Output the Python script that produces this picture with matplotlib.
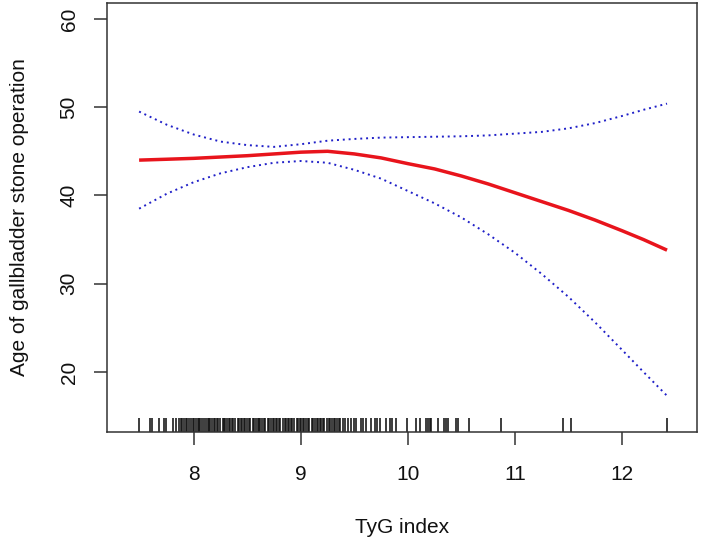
import matplotlib
matplotlib.use("Agg")
import matplotlib.pyplot as plt
import matplotlib.transforms as mtransforms

plt.rcParams["font.family"] = ["Liberation Sans", "DejaVu Sans"]

# Fitted curve and 95% CI
tyg = [7.49, 7.75, 8.0, 8.25, 8.5, 8.75, 9.0, 9.25, 9.5, 9.75, 10.0, 10.25,
       10.5, 10.75, 11.0, 11.25, 11.5, 11.75, 12.0, 12.2, 12.42]
age_fit = [44.0, 44.1, 44.2, 44.35, 44.5, 44.7, 44.9, 45.0, 44.7, 44.25, 43.6, 43.0,
           42.2, 41.3, 40.3, 39.3, 38.3, 37.2, 36.0, 35.0, 33.8]
age_upper = [49.5, 48.0, 46.9, 46.1, 45.7, 45.5, 45.8, 46.2, 46.4, 46.55, 46.6, 46.65,
             46.7, 46.8, 47.0, 47.2, 47.6, 48.2, 49.0, 49.7, 50.4]
age_lower = [38.5, 40.2, 41.5, 42.5, 43.2, 43.7, 43.9, 43.7, 42.9, 41.9, 40.5, 39.1,
             37.5, 35.6, 33.5, 31.1, 28.5, 25.6, 22.5, 20.0, 17.3]

# Observed TyG values shown as the rug
rug_x = [7.49, 7.59, 7.61, 7.68, 7.72, 7.74, 7.81, 7.83,
         7.86, 7.88, 7.89, 7.91, 7.93, 7.94, 7.96, 7.97, 7.99, 8.00, 8.02, 8.04,
         8.05, 8.06, 8.08, 8.10, 8.11, 8.13, 8.14, 8.15, 8.17, 8.19, 8.20, 8.22,
         8.23, 8.25, 8.27, 8.28, 8.29, 8.31, 8.33, 8.34, 8.36, 8.37, 8.39, 8.41,
         8.42, 8.44, 8.45, 8.47, 8.48, 8.50, 8.52, 8.53, 8.55, 8.56, 8.58, 8.60,
         8.61, 8.62, 8.64, 8.66, 8.67, 8.69, 8.70, 8.72, 8.74, 8.75, 8.77, 8.78,
         8.80, 8.81, 8.83, 8.85, 8.86, 8.88, 8.89, 8.91, 8.92, 8.94, 8.96, 8.97,
         8.99, 9.00, 9.02, 9.03, 9.05, 9.07, 9.08, 9.10, 9.11, 9.13, 9.15, 9.16,
         9.18, 9.19, 9.21, 9.22, 9.24, 9.26, 9.27, 9.29, 9.31, 9.32, 9.34, 9.36,
         9.37, 9.39, 9.41,
         9.44, 9.47, 9.50, 9.52, 9.56, 9.58, 9.61, 9.66, 9.69, 9.71, 9.74,
         9.80, 9.83, 9.85, 9.89, 9.99, 10.08, 10.11,
         10.17, 10.19, 10.21, 10.22, 10.28, 10.34, 10.36, 10.37, 10.45, 10.47,
         10.57, 10.87, 11.45, 11.52, 12.42]

xticks = [8, 9, 10, 11, 12]
yticks = [20, 30, 40, 50, 60]

fig = plt.figure(figsize=(7.02, 5.44), dpi=100)
ax = fig.add_axes([0.1524, 0.2059, 0.8405, 0.7886])

ax.plot(tyg, age_upper, color="#2020c8", linestyle=(0, (1, 2)), linewidth=1.4)
ax.plot(tyg, age_lower, color="#2020c8", linestyle=(0, (1, 2)), linewidth=1.4)
ax.plot(tyg, age_fit, color="#e8141c", linewidth=2.5, solid_capstyle="butt")

trans = mtransforms.blended_transform_factory(ax.transData, ax.transAxes)
ax.vlines(rug_x, 0, 0.033, transform=trans, color="#111111", linewidth=1.15)

ax.set_xlim(7.19, 12.70)
ax.set_ylim(13.2, 61.8)
ax.set_xticks(xticks)
ax.set_yticks(yticks)
ax.set_yticklabels([str(t) for t in yticks], rotation=90, va="center")

for s in ax.spines.values():
    s.set_color("#333333")
    s.set_linewidth(1.1)
ax.tick_params(axis="both", length=9.5, width=1.1, color="#333333",
               labelsize=15, labelcolor="#111111")
ax.tick_params(axis="x", pad=14.5)
ax.tick_params(axis="y", pad=11)

ax.set_xlabel("TyG index", fontsize=15, color="#111111", labelpad=24.5)
ax.set_ylabel("Age of gallbladder stone operation", fontsize=15,
              color="#111111", labelpad=22)

fig.savefig("out.png", dpi=100)
